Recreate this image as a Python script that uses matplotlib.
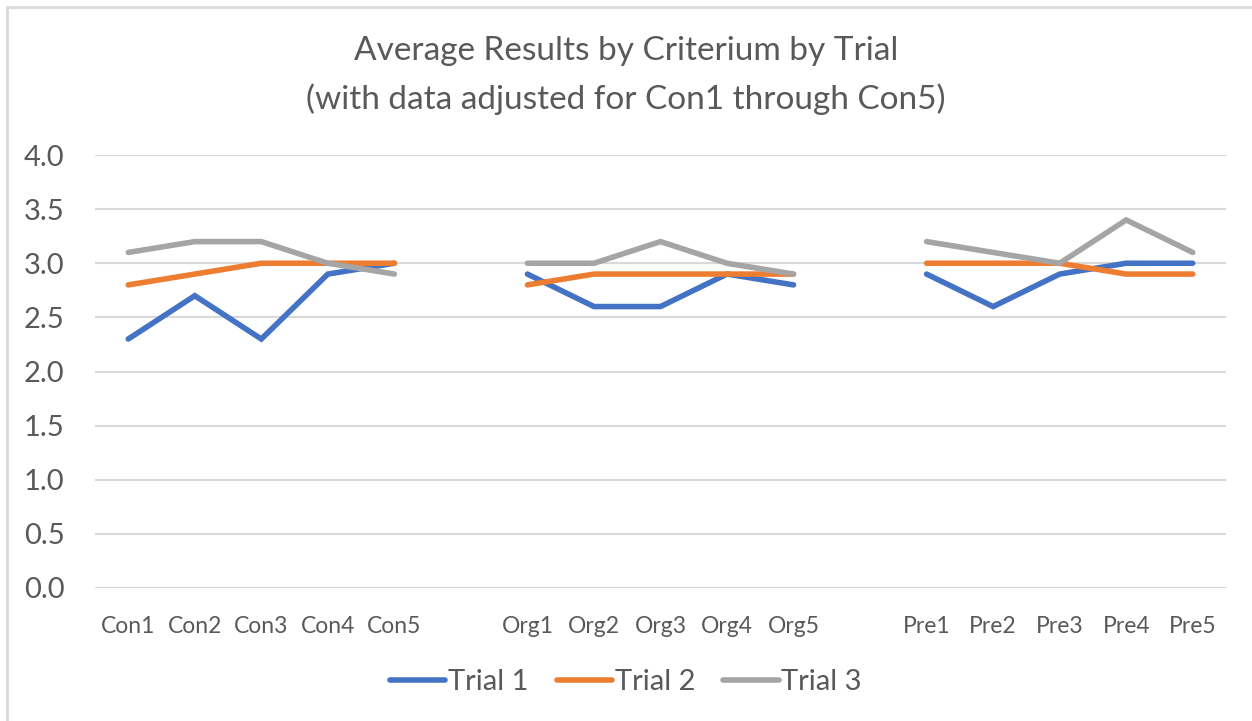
import numpy as np
import matplotlib.pyplot as plt
from matplotlib.lines import Line2D

plt.rcParams['font.family'] = ['Lato', 'DejaVu Sans']

# categories, with one empty slot between the groups
categories = ['Con1', 'Con2', 'Con3', 'Con4', 'Con5', '',
              'Org1', 'Org2', 'Org3', 'Org4', 'Org5', '',
              'Pre1', 'Pre2', 'Pre3', 'Pre4', 'Pre5']

nan = np.nan
trial1 = [2.3, 2.7, 2.3, 2.9, 3.0, nan,
          2.9, 2.6, 2.6, 2.9, 2.8, nan,
          2.9, 2.6, 2.9, 3.0, 3.0]
trial2 = [2.8, 2.9, 3.0, 3.0, 3.0, nan,
          2.8, 2.9, 2.9, 2.9, 2.9, nan,
          3.0, 3.0, 3.0, 2.9, 2.9]
trial3 = [3.1, 3.2, 3.2, 3.0, 2.9, nan,
          3.0, 3.0, 3.2, 3.0, 2.9, nan,
          3.2, 3.1, 3.0, 3.4, 3.1]

series = [('Trial 1', trial1, '#4472C4'),
          ('Trial 2', trial2, '#ED7D31'),
          ('Trial 3', trial3, '#A5A5A5')]

yticks = np.arange(0, 4.01, 0.5)
text_col = '#595959'
grid_col = '#D9D9D9'

fig = plt.figure(figsize=(12.52, 7.21), dpi=100)

# chart frame (cut by the page edges on right and bottom)
fig.patches.append(plt.Rectangle((7 / 1252, -0.05), 1.1, 1 - 7 / 721 + 0.05,
                                 transform=fig.transFigure, fill=False,
                                 edgecolor=grid_col, linewidth=2))

ax = fig.add_axes([95 / 1252, 1 - 588 / 721, (1226 - 95) / 1252, (588 - 155) / 721])
x = np.arange(len(categories))

for y in yticks:
    ax.axhline(y, color=grid_col, linewidth=1.5, zorder=0)

for name, vals, col in series:
    ax.plot(x, vals, color=col, linewidth=4, solid_capstyle='round',
            solid_joinstyle='miter', label=name, zorder=3)

ax.set_xlim(-0.5, len(categories) - 0.5)
ax.set_ylim(0, 4)
ax.set_yticks(yticks)
ax.set_yticklabels([f'{v:.1f}' for v in yticks])
ax.set_xticks(x)
ax.set_xticklabels(categories)
ax.tick_params(axis='y', length=0, pad=22, labelsize=21, labelcolor=text_col)
ax.tick_params(axis='x', length=0, pad=20, labelsize=16.5, labelcolor=text_col)
for s in ax.spines.values():
    s.set_visible(False)

fig.text(0.5, 1 - 51 / 721, 'Average Results by Criterium by Trial',
         ha='center', va='center', fontsize=24, color=text_col)
fig.text(0.5, 1 - 99 / 721, '(with data adjusted for Con1 through Con5)',
         ha='center', va='center', fontsize=24, color=text_col)

handles = [Line2D([], [], color=c, linewidth=4, solid_capstyle='round')
           for _, _, c in series]
fig.legend(handles, [n for n, _, _ in series], loc='center',
           bbox_to_anchor=(0.5, 1 - 682 / 721), ncol=3, frameon=False,
           fontsize=21, labelcolor=text_col, handlelength=1.9,
           handletextpad=0.1, columnspacing=0.95)

fig.savefig('out.png', dpi=100)
